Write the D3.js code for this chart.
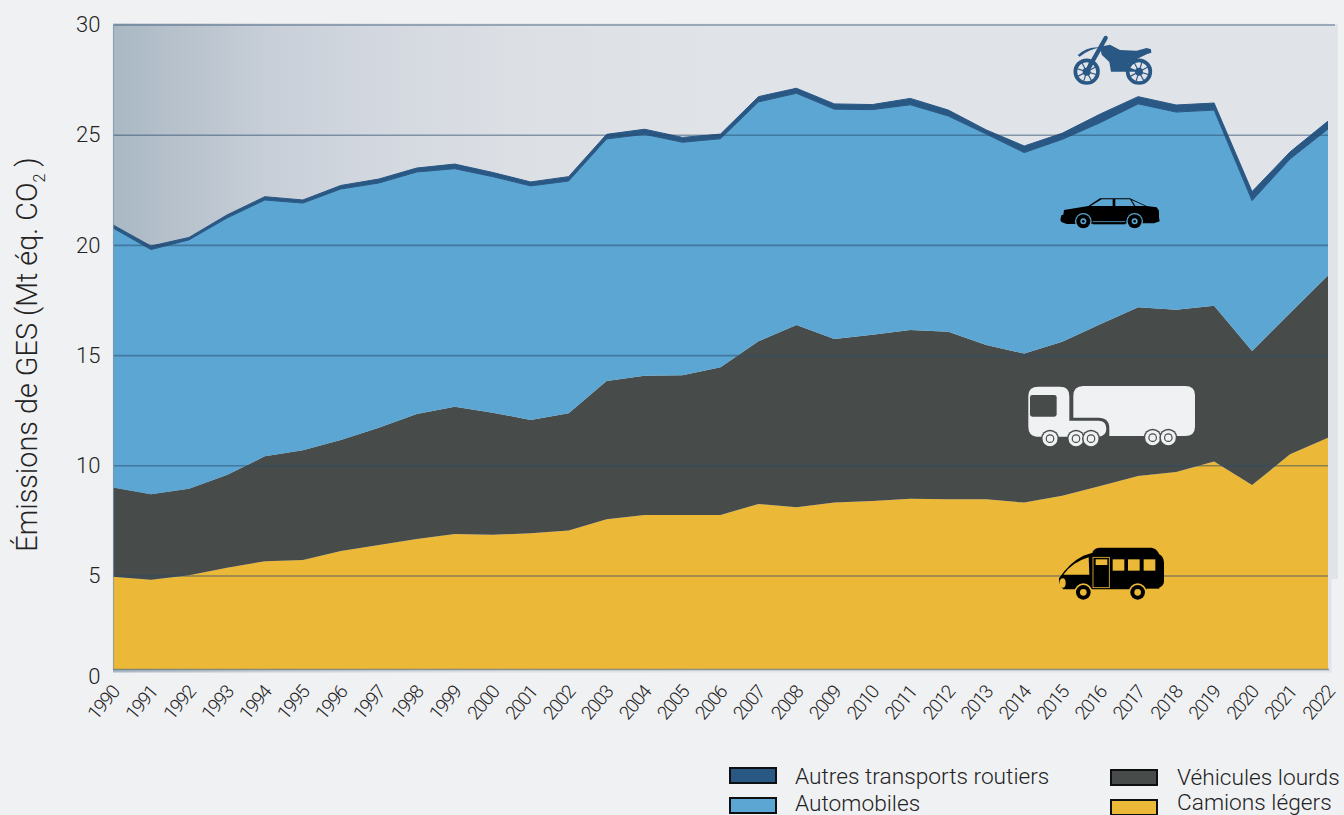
<!DOCTYPE html>
<html><head><meta charset="utf-8">
<script src="https://cdn.jsdelivr.net/npm/d3@7/dist/d3.min.js"></script>
<style>
html,body{margin:0;padding:0;background:#f0f1f3;overflow:hidden}
svg{display:block}
text{font-family:Roboto,sans-serif;fill:#232323}
</style></head><body>
<svg id="c" width="1344" height="815"></svg>
<script>
const years = d3.range(1990, 2023);
const camions = [4.96,4.80,5.03,5.38,5.67,5.73,6.13,6.41,6.68,6.91,6.87,6.94,7.06,7.57,7.77,7.77,7.77,8.27,8.12,8.33,8.40,8.51,8.48,8.48,8.33,8.64,9.08,9.54,9.72,10.19,9.13,10.52,11.27];
const lourds = [4.05,3.91,3.93,4.20,4.76,4.97,5.04,5.32,5.67,5.77,5.54,5.14,5.32,6.28,6.32,6.34,6.70,7.38,8.27,7.42,7.55,7.65,7.60,7.00,6.76,6.99,7.34,7.65,7.36,7.07,6.08,6.41,7.36];
const autos = [11.78,11.10,11.29,11.66,11.63,11.22,11.39,11.10,10.98,10.80,10.71,10.62,10.54,10.98,10.95,10.57,10.37,10.86,10.51,10.43,10.21,10.22,9.79,9.57,9.12,9.18,9.15,9.23,8.97,8.88,6.82,6.99,6.65];
const autres = [0.14,0.16,0.11,0.14,0.15,0.14,0.16,0.18,0.18,0.21,0.19,0.18,0.20,0.21,0.23,0.22,0.21,0.24,0.23,0.24,0.23,0.29,0.27,0.19,0.30,0.28,0.39,0.33,0.32,0.32,0.41,0.32,0.36];
const keys = ["camions","lourds","autos","autres"];
const seriesValues = {camions, lourds, autos, autres};
const colors = {camions:"#ecb837", lourds:"#474c4a", autos:"#5ca6d3", autres:"#2a5885"};
const yTicks = [0,5,10,15,20,25,30];
const legendItems = [
  {label:"Autres transports routiers", key:"autres", x:730, y:768, tx:795, ty:784},
  {label:"Automobiles", key:"autos", x:730, y:798, tx:795, ty:810.5},
  {label:"Véhicules lourds", key:"lourds", x:1111, y:770, tx:1177, ty:785},
  {label:"Camions légers", key:"camions", x:1111, y:800, tx:1177, ty:810}
];

const svg = d3.select("#c");
const x = d3.scaleLinear().domain([1990,2022]).range([113,1328]);
const y = d3.scaleLinear().domain([0,5,30]).range([669.5,576,25]);

const defs = svg.append("defs");
const g = defs.append("linearGradient").attr("id","panel").attr("x1",0).attr("x2",1).attr("y1",0).attr("y2",0);
[[0,"#a9b8c4"],[0.05,"#b6c1cb"],[0.13,"#c8cfd8"],[0.22,"#d3d8e0"],[0.33,"#dcdfe4"],[0.5,"#e0e3e8"],[1,"#e0e3e8"]]
  .forEach(d=>g.append("stop").attr("offset",d[0]).attr("stop-color",d[1]));
svg.append("rect").attr("x",1328).attr("y",24).attr("width",10).attr("height",555).attr("fill","#e0e3e8");
svg.append("rect").attr("x",1328).attr("y",579).attr("width",3.5).attr("height",93.5).attr("fill","#e0e3e8");
svg.append("rect").attr("x",113).attr("y",23.5).attr("width",1216).attr("height",649).attr("fill","url(#panel)");

const table = years.map((yr,i)=>{const o={year:yr}; keys.forEach(k=>o[k]=seriesValues[k][i]); return o;});
const stacked = d3.stack().keys(keys)(table);
const area = d3.area().x(d=>x(d.data.year)).y0(d=>y(d[0])).y1(d=>y(d[1]));
svg.append("defs").append("clipPath").attr("id","plot").append("rect").attr("x",113).attr("y",20).attr("width",1215).attr("height",660);
svg.append("g").attr("clip-path","url(#plot)").selectAll("path").data(stacked).join("path")
  .attr("d",area).attr("fill",d=>colors[d.key])
  .attr("stroke",d=>d.key==="autres"?colors.autres:"none").attr("stroke-width",1).attr("stroke-linejoin","round");

const grid = svg.append("g");
grid.selectAll("line").data(yTicks.filter(t=>t>0)).join("line")
  .attr("x1",113.5).attr("x2",d=>d===30?1335:1328)
  .attr("y1",d=>y(d)).attr("y2",d=>y(d))
  .attr("stroke","#274a6c").attr("stroke-opacity",0.5).attr("stroke-width",1.6);
grid.append("line").attr("x1",113).attr("x2",1329).attr("y1",y(0)).attr("y2",y(0))
  .attr("stroke","#3f5f80").attr("stroke-opacity",0.55).attr("stroke-width",1.6);
grid.append("line").attr("x1",113.5).attr("x2",113.5).attr("y1",y(30)).attr("y2",y(0))
  .attr("stroke","#7f95aa").attr("stroke-opacity",0.7).attr("stroke-width",1.2);

const yAxis = svg.append("g").attr("transform","translate(100.5,0)")
  .call(d3.axisLeft(y).tickValues(yTicks).tickSize(0).tickPadding(0).tickFormat(d3.format("d")));
yAxis.select(".domain").remove();
yAxis.selectAll("text").attr("font-size",22).attr("font-weight",300).attr("font-family","Roboto,sans-serif").attr("fill","#232323")
  .attr("dy",d=>d===0?"0.62em":"0.3em");
const xAxis = svg.append("g").attr("transform",`translate(0,${y(0)})`)
  .call(d3.axisBottom(x).tickValues(years).tickSize(0).tickFormat(d3.format("d")));
xAxis.select(".domain").remove();
xAxis.selectAll("text").attr("font-size",19).attr("font-weight",300).attr("font-family","Roboto,sans-serif")
  .attr("fill","#232323").attr("text-anchor","end").attr("dy",0).attr("y",0)
  .attr("letter-spacing","-1.2px")
  .attr("transform","translate(7,23) rotate(-50)");

const yt = svg.append("text").attr("transform","translate(37,354.5) rotate(-90)")
  .attr("text-anchor","middle").attr("font-size",28.8).attr("font-weight",300);
yt.append("tspan").text("Émissions de GES (Mt éq. CO");
yt.append("tspan").text("2").attr("font-size",16).attr("dy",8);
yt.append("tspan").text(" )").attr("dy",-8);

const lg = svg.append("g").selectAll("g").data(legendItems).join("g");
lg.append("rect").attr("x",d=>d.x).attr("y",d=>d.y).attr("width",46).attr("height",15)
  .attr("fill",d=>colors[d.key]).attr("stroke","#0d0f10").attr("stroke-width",2);
lg.append("text").attr("x",d=>d.tx).attr("y",d=>d.ty).attr("font-size",22.7).attr("font-weight",300).text(d=>d.label);

const moto = svg.append("g").attr("transform","translate(1065,30) scale(0.3333)").attr("fill","#2a5885");
[[65,125],[222,125]].forEach(c=>{
  moto.append("circle").attr("cx",c[0]).attr("cy",c[1]).attr("r",34).attr("fill","none").attr("stroke","#2a5885").attr("stroke-width",11);
  moto.append("circle").attr("cx",c[0]).attr("cy",c[1]).attr("r",12);
  d3.range(8).forEach(i=>{const a=i*Math.PI/4+0.3;
    moto.append("line").attr("x1",c[0]).attr("y1",c[1]).attr("x2",c[0]+32*Math.cos(a)).attr("y2",c[1]+32*Math.sin(a)).attr("stroke","#2a5885").attr("stroke-width",3.5);});
});
moto.append("line").attr("x1",65).attr("y1",125).attr("x2",122).attr("y2",24).attr("stroke","#2a5885").attr("stroke-width",13).attr("stroke-linecap","round");
moto.append("path").attr("d","M38,76 Q65,48 110,52 Q72,58 44,80Z");
moto.append("path").attr("d","M105,50 L135,44 L165,60 L215,62 L245,54 L258,58 L259,68 L245,73 L205,92 L190,102 L190,110 L222,125 L190,125 L138,125 L133,96 L110,74Z");

const car = svg.append("g").attr("transform","translate(1000,20) scale(0.3333)");
car.append("path").attr("fill","#000").attr("d","M181,600 L184,586 L190,584 L192,570 L265,558 L300,535 L390,535 L440,558 L470,562 L477,572 L477,590 L479,604 L462,610 L440,610 L200,612 L184,606Z");
[["M272,558 L305,538 L338,538 L338,558Z"],["M346,538 L390,538 L402,558 L346,558Z"],["M395,540 L435,558 L406,558Z"]]
  .forEach(p=>car.append("path").attr("d",p[0]).attr("fill","#5ca6d3"));
[250,404].forEach(cx=>{
  car.append("circle").attr("cx",cx).attr("cy",604).attr("r",25).attr("fill","#5ca6d3");
  car.append("circle").attr("cx",cx).attr("cy",604).attr("r",21).attr("fill","#000");
  car.append("circle").attr("cx",cx).attr("cy",604).attr("r",9).attr("fill","#5ca6d3");
  car.append("circle").attr("cx",cx).attr("cy",604).attr("r",4).attr("fill","#000");
});
car.append("rect").attr("x",278).attr("y",604).attr("width",98).attr("height",3).attr("fill","#5ca6d3");
car.append("rect").attr("x",278).attr("y",607).attr("width",98).attr("height",6).attr("fill","#000");

const truck = svg.append("g").attr("transform","translate(1000,370) scale(0.3333)");
const tw="#f0f1f3", td="#474c4a";
truck.append("path").attr("fill",tw).attr("d","M220,78 Q220,48 250,48 L555,48 Q585,48 585,75 L585,170 Q585,198 555,198 L328,198 L328,175 Q328,143 295,143 L220,143Z");
truck.append("path").attr("fill",tw).attr("d","M85,78 Q85,50 115,50 L180,50 Q208,50 208,78 L208,152 L295,152 Q319,152 319,176 Q319,198 295,200 L110,200 Q85,197 85,170Z");
truck.append("rect").attr("x",90).attr("y",75).attr("width",80).attr("height",65).attr("rx",7).attr("fill",td);
[[150,206],[228,206],[273,206],[458,203],[505,203]].forEach(c=>{
  truck.append("circle").attr("cx",c[0]).attr("cy",c[1]).attr("r",27).attr("fill",td);
  truck.append("circle").attr("cx",c[0]).attr("cy",c[1]).attr("r",22.5).attr("fill",tw);
  truck.append("circle").attr("cx",c[0]).attr("cy",c[1]).attr("r",13).attr("fill",td);
  truck.append("circle").attr("cx",c[0]).attr("cy",c[1]).attr("r",9.5).attr("fill",tw);
});

const van = svg.append("g").attr("transform","translate(1050,540) scale(0.3333)");
const vy="#ecb837";
van.append("path").attr("fill","#000").attr("d","M128,35 Q135,23 150,23 L305,23 Q320,25 328,43 Q342,50 342,70 L342,125 Q340,140 325,143 L290,143 L290,148 L40,148 Q26,135 27,115 Q58,68 100,47 L128,38Z");
van.append("path").attr("fill",vy).attr("d","M40,104 Q68,66 116,52 L118,104Z");
van.append("ellipse").attr("cx",38).attr("cy",129).attr("rx",9).attr("ry",14).attr("fill",vy);
van.append("rect").attr("x",129).attr("y",52).attr("width",49).attr("height",91).attr("fill","none").attr("stroke",vy).attr("stroke-width",2.5);
van.append("rect").attr("x",137).attr("y",58).attr("width",35).attr("height",17).attr("fill",vy);
[188,234,281].forEach(wx=>van.append("rect").attr("x",wx).attr("y",58).attr("width",35).attr("height",34).attr("fill",vy));
van.append("rect").attr("x",270).attr("y",140).attr("width",58).attr("height",6).attr("fill","#000");
[100,263].forEach(cx=>{
  van.append("circle").attr("cx",cx).attr("cy",157).attr("r",27).attr("fill",vy);
  van.append("circle").attr("cx",cx).attr("cy",157).attr("r",22).attr("fill","#000");
  van.append("circle").attr("cx",cx).attr("cy",157).attr("r",10).attr("fill",vy);
});
</script>
</body></html>
